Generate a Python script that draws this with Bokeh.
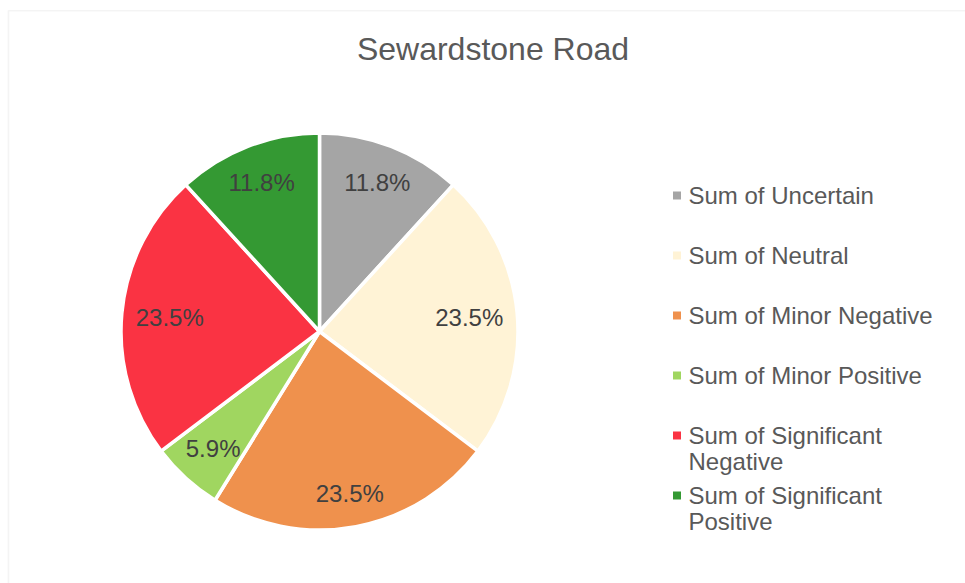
import math
from bokeh.plotting import figure
from bokeh.models import Range1d, BoxAnnotation, ColumnDataSource
from bokeh.core.properties import value
from bokeh.embed import file_html
from bokeh.resources import INLINE

# ---- data ----
chart_title = "Sewardstone Road"
categories = ["Uncertain", "Neutral", "Minor Negative", "Minor Positive",
              "Significant Negative", "Significant Positive"]
counts = [2, 4, 4, 1, 4, 2]
colors = ["#A5A5A5", "#FFF3D6", "#EF914D", "#A0D660", "#FA3343", "#349933"]
legend_labels = ["Sum of Uncertain", "Sum of Neutral", "Sum of Minor Negative",
                 "Sum of Minor Positive", "Sum of Significant\nNegative",
                 "Sum of Significant\nPositive"]

# ---- layout (data units == page pixels, y measured upward) ----
W, H = 965, 583
CX, CY, R = 319, 252, 198.5
FONT = "Liberation Sans"
LABEL_PX = 24
CHAR_EM = {".": 0.278, "%": 0.889}


def text_width(s):
    return sum(CHAR_EM.get(ch, 0.556) for ch in s) * LABEL_PX


total = sum(counts)
starts, ends, pcts, lx, ly = [], [], [], [], []
cum = 0.0
D = 0.935 * R  # farthest corner of a label box from the centre ("best fit")
for c in counts:
    a0 = cum / total * 2 * math.pi          # clockwise from top
    a1 = (cum + c) / total * 2 * math.pi
    starts.append(math.pi / 2 - a1)
    ends.append(math.pi / 2 - a0)
    mid = (a0 + a1) / 2
    s, co = math.sin(mid), math.cos(mid)
    pct = f"{c / total * 100:.1f}%"
    a = math.copysign(text_width(pct) / 2, s)
    b = math.copysign(12, co)
    k = s * a + co * b
    d = -k + math.sqrt(k * k - (a * a + b * b - D * D))
    lx.append(CX + d * s)
    ly.append(CY + d * co)
    pcts.append(pct)
    cum += c

src = ColumnDataSource(dict(cat=categories, start=starts, end=ends, color=colors,
                            lx=lx, ly=ly, pct=pcts))

p = figure(width=W, height=H, x_range=Range1d(0, W), y_range=Range1d(0, H),
           output_backend="svg", toolbar_location=None, min_border=0,
           x_axis_location=None, y_axis_location=None)
p.grid.visible = False
p.outline_line_color = None
p.background_fill_color = "white"

# chart border (only left/top visible in the reference crop)
p.add_layout(BoxAnnotation(left=8, right=W + 30, top=H - 10.3, bottom=-30,
                           fill_alpha=0, line_color="#D9D9D9", line_width=1.6))

p.wedge(x=CX, y=CY, radius=R, start_angle="start", end_angle="end",
        fill_color="color", line_color="white", line_width=3.5, source=src)

p.text(x="lx", y="ly", text="pct", source=src, text_align="center",
       text_baseline="middle", text_font=value(FONT), text_font_size=f"{LABEL_PX}px",
       text_color="#404040")

# title
p.text(x=[492.5], y=[H - 48.5], text=[chart_title], text_align="center",
       text_baseline="middle", text_font=value(FONT), text_font_size="32px",
       text_color="#595959")

# legend
n = len(categories)
ry = [H - 195 - 60 * i for i in range(n)]
leg = ColumnDataSource(dict(mx=[676.5] * n, tx=[688] * n, y=ry,
                            ty=[v + 14 for v in ry], color=colors, label=legend_labels))
p.scatter(x="mx", y="y", marker="square", size=8, fill_color="color",
          line_color=None, source=leg)
p.text(x="tx", y="ty", text="label", source=leg, text_align="left",
       text_baseline="top", text_font=value(FONT), text_font_size="24px",
       text_color="#595959", text_line_height=0.98)

open("out.html", "w").write(file_html(p, INLINE))
